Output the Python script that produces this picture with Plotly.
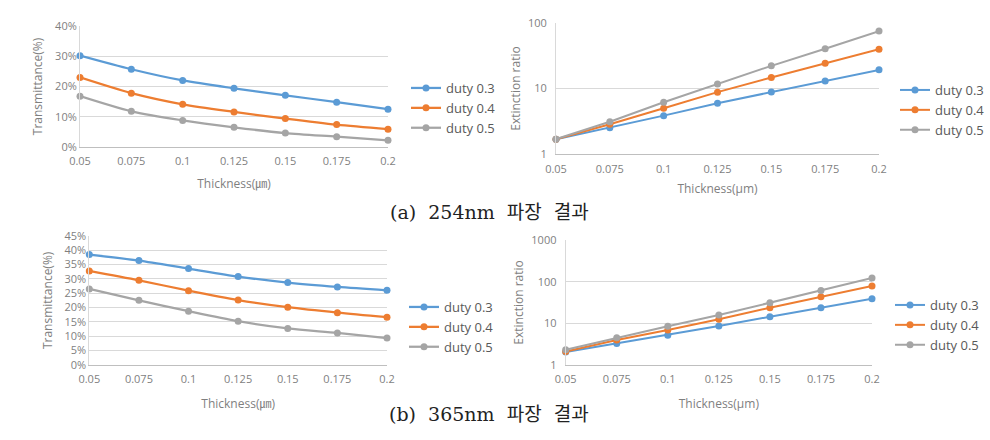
import math
import plotly.graph_objects as go

thickness = [0.05, 0.075, 0.1, 0.125, 0.15, 0.175, 0.2]
tick_text = ["0.05", "0.075", "0.1", "0.125", "0.15", "0.175", "0.2"]
series_names = ["duty 0.3", "duty 0.4", "duty 0.5"]

# (a) 254 nm
trans_254 = {
    "duty 0.3": [30.2, 25.7, 22.0, 19.4, 17.1, 14.8, 12.5],
    "duty 0.4": [23.0, 17.8, 14.1, 11.6, 9.4, 7.4, 5.9],
    "duty 0.5": [16.8, 11.8, 8.8, 6.5, 4.6, 3.4, 2.2],
}
ext_254 = {
    "duty 0.3": [1.69, 2.54, 3.87, 5.97, 8.87, 13.0, 19.2],
    "duty 0.4": [1.69, 2.86, 5.0, 8.8, 14.7, 24.3, 39.6],
    "duty 0.5": [1.70, 3.13, 6.19, 11.75, 22.1, 40.1, 74.5],
}
# (b) 365 nm
trans_365 = {
    "duty 0.3": [38.5, 36.4, 33.6, 30.8, 28.7, 27.2, 26.0],
    "duty 0.4": [32.8, 29.5, 25.9, 22.6, 20.1, 18.2, 16.6],
    "duty 0.5": [26.5, 22.5, 18.7, 15.2, 12.7, 11.1, 9.3],
}
ext_365 = {
    "duty 0.3": [2.05, 3.3, 5.2, 8.6, 14.4, 23.7, 38.9],
    "duty 0.4": [2.1, 4.0, 6.9, 12.5, 23.7, 43.3, 78.5],
    "duty 0.5": [2.33, 4.5, 8.5, 15.8, 31.2, 61.8, 122],
}

trans_ticks_254 = [0, 10, 20, 30, 40]
trans_ticks_365 = [0, 5, 10, 15, 20, 25, 30, 35, 40, 45]
log_ticks_254 = [1, 10, 100]
log_ticks_365 = [1, 10, 100, 1000]

captions = ["(a)\u00a0 254nm\u00a0 파장\u00a0 결과", "(b)\u00a0 365nm\u00a0 파장\u00a0 결과"]

colors = {"duty 0.3": "#5B9BD5", "duty 0.4": "#ED7D31", "duty 0.5": "#A5A5A5"}
W, H = 990, 440
FONT = "Open Sans, Noto Sans CJK KR, sans-serif"
TICK_COLOR = "#7F7F7F"
GRID = "#D9D9D9"

fig = go.Figure()

panels = [
    (trans_254, "x", "y", "legend", True),
    (ext_254, "x2", "y2", "legend2", False),
    (trans_365, "x3", "y3", "legend3", True),
    (ext_365, "x4", "y4", "legend4", False),
]
for data, xa, ya, lg, smooth in panels:
    for name in series_names:
        line = dict(color=colors[name], width=2.25 if smooth else 2)
        if smooth:
            line.update(shape="spline", smoothing=0.8)
        fig.add_trace(go.Scatter(
            x=thickness, y=data[name], name=name, mode="lines+markers",
            line=line, marker=dict(size=7, color=colors[name]),
            xaxis=xa, yaxis=ya, legend=lg, cliponaxis=False,
        ))

def px_x(p):
    return p / W

def px_y(p):
    return 1 - p / H

def xaxis(left, right, anchor, title, standoff):
    return dict(
        domain=[px_x(left), px_x(right)], anchor=anchor,
        range=[0.05, 0.2], tickvals=thickness, ticktext=tick_text,
        showgrid=False, zeroline=False, showline=True, linecolor="#BFBFBF",
        ticks="", tickfont=dict(family=FONT, size=11, color=TICK_COLOR),
        ticklabelstandoff=4,
        title=dict(text=title, font=dict(family=FONT, size=12, color=TICK_COLOR), standoff=standoff),
    )

def yaxis_lin(top, bottom, anchor, ticks, title, standoff):
    return dict(
        domain=[px_y(bottom), px_y(top)], anchor=anchor,
        range=[ticks[0], ticks[-1]], tickvals=ticks, ticktext=[f"{t}%" for t in ticks],
        showgrid=True, gridcolor=GRID, gridwidth=1, zeroline=False,
        showline=True, linecolor="#D9D9D9", ticks="",
        tickfont=dict(family=FONT, size=11, color=TICK_COLOR),
        title=dict(text=title, font=dict(family=FONT, size=12, color=TICK_COLOR), standoff=standoff),
    )

def yaxis_log(top, bottom, anchor, ticks, title, standoff):
    return dict(
        domain=[px_y(bottom), px_y(top)], anchor=anchor, type="log",
        range=[math.log10(ticks[0]), math.log10(ticks[-1])], tickvals=ticks,
        ticktext=[str(t) for t in ticks],
        showgrid=True, gridcolor=GRID, gridwidth=1, zeroline=False,
        showline=True, linecolor="#D9D9D9", ticks="",
        tickfont=dict(family=FONT, size=11, color=TICK_COLOR),
        ticklabelstandoff=6,
        title=dict(text=title, font=dict(family=FONT, size=12, color=TICK_COLOR), standoff=standoff),
    )

legend_common = dict(
    font=dict(family=FONT, size=13, color="#595959"), bgcolor="rgba(0,0,0,0)",
    xanchor="left", yanchor="top", itemwidth=30, tracegroupgap=0,
)

CAP_FONT = dict(family="DejaVu Serif, Noto Sans CJK KR, serif", size=19, color="#222222")

fig.update_layout(
    width=W, height=H, margin=dict(l=0, r=0, t=0, b=0, autoexpand=False),
    paper_bgcolor="white", plot_bgcolor="white", showlegend=True,
    xaxis=xaxis(80, 388, "y", "Thickness(㎛)", 12),
    yaxis=yaxis_lin(26, 147, "x", trans_ticks_254, "Transmittance(%)", 9),
    xaxis2=xaxis(556, 879, "y2", "Thickness(μm)", 10),
    yaxis2=yaxis_log(22.7, 154.3, "x2", log_ticks_254, "Extinction ratio", 4),
    xaxis3=xaxis(89.3, 387, "y3", "Thickness(㎛)", 14),
    yaxis3=yaxis_lin(236, 364.7, "x3", trans_ticks_365, "Transmittance(%)", 9),
    xaxis4=xaxis(565.7, 872, "y4", "Thickness(μm)", 14),
    yaxis4=yaxis_log(240, 365, "x4", log_ticks_365, "Extinction ratio", 5),
    legend=dict(**legend_common, x=px_x(406), y=px_y(73)),
    legend2=dict(**legend_common, x=px_x(895), y=px_y(75)),
    legend3=dict(**legend_common, x=px_x(404), y=px_y(292)),
    legend4=dict(**legend_common, x=px_x(890), y=px_y(290)),
    annotations=[
        dict(text=captions[0], x=px_x(489), y=px_y(212), xref="paper", yref="paper",
             showarrow=False, font=CAP_FONT),
        dict(text=captions[1], x=px_x(489), y=px_y(427), xref="paper", yref="paper",
             showarrow=False, font=CAP_FONT),
    ],
)

fig.write_html("out.html", post_script="document.body.style.margin='0';",
               config={"displayModeBar": False})
